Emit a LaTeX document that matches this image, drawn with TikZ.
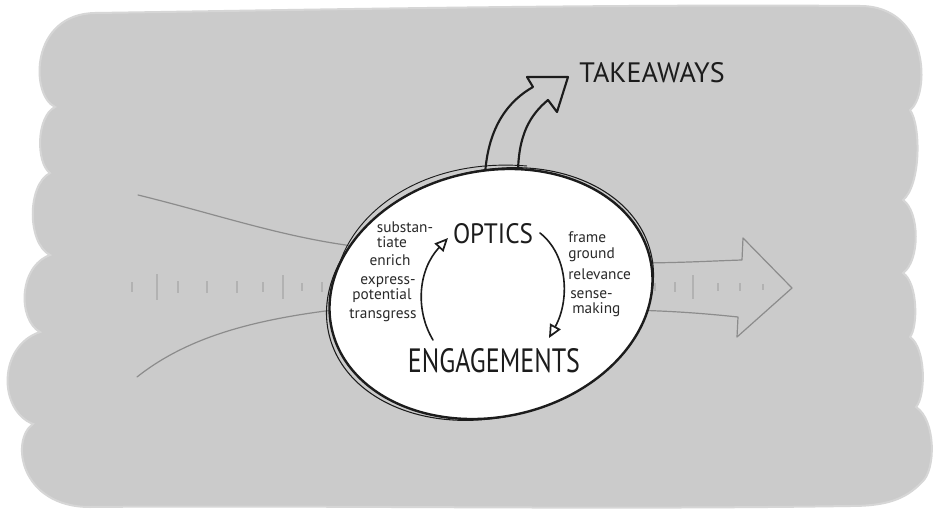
\documentclass[tikz,border=0pt]{standalone}
\usepackage{fontspec}
\usepackage{graphicx}
\newfontfamily\hand{PT Sans}
\usetikzlibrary{arrows.meta}
\definecolor{bg}{HTML}{CBCBCB}
\definecolor{bgedge}{HTML}{D6D6D6}
\definecolor{linegray}{HTML}{8C8C8C}
\definecolor{tickgray}{HTML}{B2B2B2}
\definecolor{ink}{HTML}{1C1C1C}
\definecolor{ink2}{HTML}{2A2A2A}
\tikzset{
  faint/.style={draw=linegray, line width=0.9pt, line cap=round, line join=round},
  tickmark/.style={draw=tickgray, line width=0.8pt},
  inkline/.style={draw=ink, line width=1.6pt, line cap=round, line join=round},
  smalltext/.style={font=\hand\fontsize{11.5}{13}\selectfont, text=ink2, inner sep=0pt, anchor=mid},
  bigtext/.style={font=\hand, text=ink, inner sep=0pt, anchor=base},
  cyclearrow/.style={inkline, line width=1.2pt, -{Triangle[open, length=10pt, width=9pt, line width=1.3pt]}}
}
\begin{document}
\begin{tikzpicture}[x=0.75pt,y=-0.75pt]
\useasboundingbox (0,0) rectangle (933,514);
\fill[white] (0,0) rectangle (933,514);
% wavy grey background
\path[fill=bg, draw=bgedge, line width=1.5pt]
  (55,107) .. controls (30,95) and (30,14) .. (95,13)
  .. controls (300,10) and (600,4) .. (860,6)
  .. controls (930,6) and (930,95) .. (910,110)
  .. controls (921,125) and (921,185) .. (903,200)
  .. controls (920,212) and (920,261) .. (903,273)
  .. controls (918,283) and (918,327) .. (910,337)
  .. controls (926,348) and (926,396) .. (916,407)
  .. controls (936,420) and (936,470) .. (922,482)
  .. controls (905,500) and (885,506) .. (850,506)
  .. controls (600,510) and (300,505) .. (90,507)
  .. controls (20,507) and (10,440) .. (33,424)
  .. controls (-2,410) and (-2,346) .. (40,332)
  .. controls (18,320) and (18,267) .. (50,255)
  .. controls (27,243) and (27,185) .. (50,173)
  .. controls (36,163) and (36,117) .. (55,107) -- cycle;

% faint incoming lines
\coordinate (lu0) at (138,195);
\coordinate (lu1) at (370,248);
\coordinate (ll0) at (137,377);
\coordinate (ll1) at (350,308);
\draw[faint] (lu0) .. controls (220,215) and (290,240) .. (lu1);
\draw[faint] (ll0) .. controls (190,335) and (260,318) .. (ll1);

% faint outgoing arrow
\coordinate (ra1) at (630,263);
\coordinate (ra2) at (742,260);
\coordinate (ra3) at (743,238);
\coordinate (ratip) at (792,288);
\coordinate (ra5) at (737,337);
\coordinate (ra6) at (738,317);
\coordinate (ra7) at (630,310);
\draw[faint] (ra1) .. controls (680,263) and (710,261) .. (ra2) -- (ra3) -- (ratip) -- (ra5) -- (ra6)
  .. controls (700,313) and (670,311) .. (ra7);

% ticks
\foreach \x/\h in {132/5,157/13,178/6,207/6,237/6,263/5,283/12,302/4,322/5,
                   655/4,675/5,693/12,718/4,740/4,763/3}
  \draw[tickmark] (\x,287-\h) -- (\x,287+\h);

% takeaways arrow
\coordinate (tk0) at (485,175);
\coordinate (tk1) at (533,87);
\coordinate (tkb1) at (527,77);
\coordinate (tktip) at (568,77);
\coordinate (tkb2) at (557,112);
\coordinate (tk4) at (548,100);
\coordinate (tk5) at (518,175);
\draw[inkline] (tk0) .. controls (488,125) and (510,100) .. (tk1) -- (tkb1) -- (tktip) -- (tkb2) -- (tk4)
  .. controls (530,115) and (518,135) .. (tk5);

% main ellipse
\draw[ink, line width=0.8pt, rotate around={15:(490,294)}] (490,294) ellipse [x radius=166, y radius=123];
\fill[white, rotate around={12:(491,294)}] (491,294) ellipse [x radius=163, y radius=123];
\draw[ink, line width=1.8pt, rotate around={12:(491,294)}] (491,294) ellipse [x radius=163, y radius=123];
\draw[ink, line width=0.7pt] (340,262) .. controls (360,205) and (430,158) .. (527,166);

% cycle arrows
\coordinate (cl0) at (433,340);
\coordinate (cl1) at (448,238);
\coordinate (cr0) at (540,233);
\coordinate (cr1) at (549,338);
\draw[cyclearrow] (cl0) .. controls (415,310) and (418,270) .. (cl1);
\draw[cyclearrow] (cr0) .. controls (568,255) and (570,300) .. (cr1);

% big labels
\node[bigtext] (optics) at (493,243) {\resizebox{60pt}{15pt}{OPTICS}};
\node[bigtext] (engagements) at (494,372) {\resizebox{129pt}{18pt}{ENGAGEMENTS}};
\node[bigtext] (takeaways) at (652,82) {\resizebox{109pt}{15pt}{TAKEAWAYS}};

% left list
\node[smalltext] (l1) at (405,230) {substan-};
\node[smalltext] (l2) at (392,245) {tiate};
\node[smalltext] (l3) at (390,263) {enrich};
\node[smalltext] (l4) at (388,282) {express-};
\node[smalltext] (l5) at (382,297) {potential};
\node[smalltext] (l6) at (383,316) {transgress};
% right list
\node[smalltext, anchor=mid west] (r1) at (568,240) {frame};
\node[smalltext, anchor=mid west] (r2) at (568,256) {ground};
\node[smalltext, anchor=mid west] (r3) at (568,277) {relevance};
\node[smalltext, anchor=mid west] (r4) at (570,296) {sense-};
\node[smalltext, anchor=mid west] (r5) at (572,311) {making};
\end{tikzpicture}
\end{document}
